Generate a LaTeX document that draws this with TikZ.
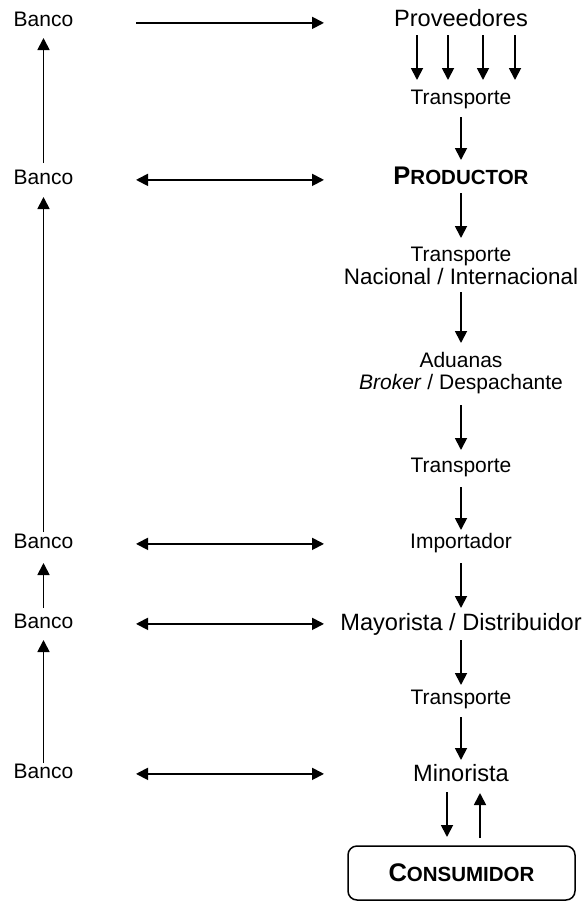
\documentclass[tikz,border=0pt]{standalone}
\usepackage{fontspec}
\setmainfont{Liberation Sans}
\usetikzlibrary{arrows.meta}
\tikzset{
  lbl/.style={anchor=base, inner sep=0pt, font=\fontsize{21}{25}\selectfont},
  big/.style={anchor=base, inner sep=0pt, font=\fontsize{23.6}{28}\selectfont},
  mid/.style={anchor=base, inner sep=0pt, font=\fontsize{22.4}{27}\selectfont},
  arr/.style={line width=1.8pt, -{Triangle[width=12pt,length=12pt]}},
  dbl/.style={line width=1.8pt, {Triangle[width=12pt,length=12pt]}-{Triangle[width=12pt,length=12pt]}},
  boxed/.style={draw, line width=1.5pt, rounded corners=9pt, minimum width=227pt, minimum height=54pt, inner sep=0pt},
}
\newcommand{\scapsA}[2]{{\bfseries\fontsize{25.5}{30}\selectfont #1\fontsize{20.5}{24}\selectfont #2}}
\begin{document}
\begin{tikzpicture}[x=1pt,y=-1pt]
\useasboundingbox (0,0) rectangle (585,902);
% left column
\node[lbl] (b1) at (43.5,27) {Banco};
\node[lbl] (b2) at (43.5,184) {Banco};
\node[lbl] (b3) at (43.5,548) {Banco};
\node[lbl] (b4) at (43.5,628) {Banco};
\node[lbl] (b5) at (43.5,778) {Banco};
% right chain
\node[big] (prov) at (461,26) {Proveedores};
\node[lbl] (t1) at (461,104) {Transporte};
\node[anchor=base, inner sep=0pt] (prod) at (461,184) {\scapsA{P}{RODUCTOR}};
\node[lbl] (t2) at (461,261) {Transporte};
\node[mid] (t2b) at (461,284) {Nacional / Internacional};
\node[lbl] (adu) at (461,367) {Aduanas};
\node[lbl] (adub) at (461,389) {\textit{Broker} / Despachante};
\node[lbl] (t3) at (461,472) {Transporte};
\node[lbl] (imp) at (461,548) {Importador};
\node[big] (may) at (461,630) {Mayorista / Distribuidor};
\node[lbl] (t4) at (461,704) {Transporte};
\node[big] (mino) at (461,781) {Minorista};
\node[boxed] (cons) at (461.5,873) {\scapsA{C}{ONSUMIDOR}};
% supplier arrows
\foreach \dx in {-44,-13,22,54}{
  \draw[arr] ([xshift=\dx pt]prov.center |- 0,35) -- ([xshift=\dx pt]t1.center |- 0,80);
}
% chain arrows
\draw[arr] (t1.center |- 0,117) -- (prod.center |- 0,160);
\draw[arr] (prod.center |- 0,193) -- (t2.center |- 0,238);
\draw[arr] (t2b.center |- 0,292) -- (adu.center |- 0,343);
\draw[arr] (adub.center |- 0,405) -- (t3.center |- 0,450);
\draw[arr] (t3.center |- 0,487) -- (imp.center |- 0,530);
\draw[arr] (imp.center |- 0,563) -- (may.center |- 0,608);
\draw[arr] (may.center |- 0,640) -- (t4.center |- 0,685);
\draw[arr] (t4.center |- 0,717) -- (mino.center |- 0,760);
\draw[arr] ([xshift=-14pt]mino.center |- 0,792) -- ([xshift=-14.5pt]cons.north |- 0,837);
\draw[arr] ([xshift=18.5pt]cons.north |- 0,838) -- ([xshift=19pt]mino.center |- 0,793);
% bank arrows (vertical)
\draw[arr] (b2.center |- 0,163) -- (b1.center |- 0,38);
\draw[arr] (b3.center |- 0,532) -- (b2.center |- 0,197);
\draw[arr] (b4.center |- 0,608) -- (b3.center |- 0,563);
\draw[arr] (b5.center |- 0,763) -- (b4.center |- 0,640);
% bank arrows (horizontal)
\draw[arr] ([yshift=-3pt]b1.center -| 136,0) -- ([yshift=-3pt]b1.center -| 324,0);
\draw[dbl] ([yshift=-3pt]b2.center -| 136,0) -- ([yshift=-3pt]b2.center -| 324,0);
\draw[dbl] ([yshift=-3pt]b3.center -| 136,0) -- ([yshift=-3pt]b3.center -| 324,0);
\draw[dbl] ([yshift=-3pt]b4.center -| 136,0) -- ([yshift=-3pt]b4.center -| 324,0);
\draw[dbl] ([yshift=-3pt]b5.center -| 136,0) -- ([yshift=-3pt]b5.center -| 324,0);
\end{tikzpicture}
\end{document}
